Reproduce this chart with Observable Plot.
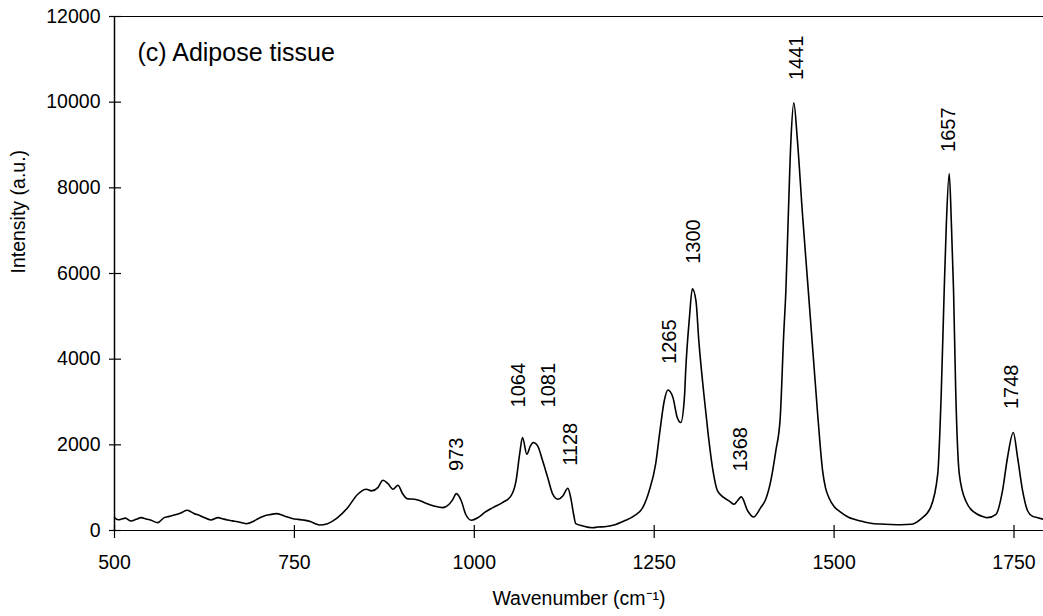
<!DOCTYPE html>
<html>
<head>
<meta charset="utf-8">
<script src="https://cdn.jsdelivr.net/npm/d3@7"></script>
<script src="https://cdn.jsdelivr.net/npm/@observablehq/plot@0.6"></script>
<style>
  html, body { margin: 0; padding: 0; background: #fff; overflow: hidden; }
  #chart svg { display: block; }
</style>
</head>
<body>
<div id="chart"></div>
<script>
// Spectrum
const wavenumber = [500,505,509,515,523,530,537,544,551,560,569,576,583,593,601,606,611,617,623,634,644,651,657,664,671,683,694,700,708,716,725,736,748,755,762,773,779,785,796,803,810,824,838,850,857,866,873,880,887,894,900,907,917,924,931,944,956,965,970,975,982,988,996,1005,1010,1014,1026,1039,1051,1058,1063,1067,1073,1078,1082,1088,1095,1102,1109,1116,1123,1130,1134,1138,1141,1151,1164,1172,1181,1194,1208,1222,1234,1243,1252,1258,1264,1269,1276,1282,1287,1292,1294,1299,1303,1308,1312,1319,1325,1331,1338,1347,1355,1361,1366,1371,1380,1388,1398,1405,1412,1419,1425,1430,1433,1436,1440,1444,1449,1456,1463,1470,1477,1484,1488,1493,1500,1509,1520,1528,1542,1551,1565,1579,1593,1607,1620,1634,1644,1649,1653,1656,1660,1663,1666,1669,1674,1683,1699,1706,1713,1725,1734,1741,1749,1755,1762,1769,1776,1783,1791];
const intensity = [300,250,262,290,222,260,300,270,238,183,300,330,362,417,472,440,393,360,316,246,300,270,246,225,206,159,222,280,339,370,393,339,276,260,246,206,160,129,159,220,300,533,847,964,924,1001,1174,1095,964,1057,870,740,730,700,650,573,533,613,720,861,690,379,238,300,360,417,533,650,807,1158,1782,2171,1782,1977,2054,1977,1626,1235,847,730,807,987,767,379,159,105,65,80,89,129,222,339,533,924,1549,2327,3029,3279,3107,2639,2522,3107,3808,4978,5642,5368,4433,3186,2250,1469,924,767,680,613,700,784,456,316,533,730,1158,1860,2600,4589,5602,7162,9111,9984,9111,7400,5850,4300,2750,1400,1000,760,560,430,310,260,200,170,150,140,135,145,262,533,1315,3263,5602,7162,8332,7162,5602,3263,1315,690,379,330,300,379,924,1704,2288,1704,924,456,330,300,262];

// Peak annotations
const peakLabels = ["973","1064","1081","1128","1265","1300","1368","1441","1657","1748"];
const peakLabelX = [976,1061,1103,1134,1272,1305,1370,1448,1659,1747];
const peakLabelY = [1392,2873,2873,1509,3888,6227,1375,10515,8837,2835];

const xTicks = [500,750,1000,1250,1500,1750];
const yTicks = [0,2000,4000,6000,8000,10000,12000];

const titleText = "(c) Adipose tissue";
const xTitle = "Wavenumber (cm\u207B\u00B9)";
const yTitle = "Intensity (a.u.)";

const spectrum = wavenumber.map((w, i) => ({w, v: intensity[i]}));
const peaks = peakLabels.map((t, i) => ({t, x: peakLabelX[i], y: peakLabelY[i]}));

const W = 1043, H = 616, mL = 114, mR = 0, mT = 16, mB = 86;
const xDomain = [500, 1791];
const yDomain = [0, 12000];
const uX = (xDomain[1] - xDomain[0]) / (W - mL - mR); // units per px
const uY = (yDomain[1] - yDomain[0]) / (H - mT - mB);

const font = "'Liberation Sans', Arial, Helvetica, sans-serif";

const chart = Plot.plot({
  width: W,
  height: H,
  marginLeft: mL,
  marginRight: mR,
  marginTop: mT,
  marginBottom: mB,
  style: {fontFamily: font, background: "#fff", color: "#000"},
  x: {domain: xDomain, axis: null},
  y: {domain: yDomain, axis: null},
  marks: [
    // frame lines
    Plot.ruleY([12000], {stroke: "#000", strokeWidth: 1.2}),
    Plot.ruleY([0], {stroke: "#000", strokeWidth: 1.2}),
    Plot.ruleX([500], {stroke: "#000", strokeWidth: 1.5}),
    // ticks crossing the axes
    Plot.ruleY(yTicks, {x1: 500 - 5 * uX, x2: 500 + 7 * uX, stroke: "#000", strokeWidth: 1.2}),
    Plot.ruleX(xTicks, {y1: -8 * uY, y2: 5 * uY, stroke: "#000", strokeWidth: 1.2}),
    // tick labels
    Plot.text(yTicks, {x: 500, y: d => d, text: d => String(d), textAnchor: "end", dx: -14, fontSize: 19.5, fill: "#000"}),
    Plot.text(xTicks, {x: d => d, y: 0, text: d => String(d), dy: 32, fontSize: 19.5, fill: "#000"}),
    // spectrum
    Plot.line(spectrum, {x: "w", y: "v", stroke: "#000", strokeWidth: 1.6, curve: "monotone-x"}),
    // peak labels
    Plot.text(peaks, {x: "x", y: "y", text: "t", rotate: -90, textAnchor: "start", lineAnchor: "middle", fontSize: 20, fill: "#000"}),
    // chart title inside plot
    Plot.text([titleText], {frameAnchor: "top-left", dx: 23, dy: 36, textAnchor: "start", lineAnchor: "middle", fontSize: 25, fill: "#000"}),
    // axis titles
    Plot.text([xTitle], {frameAnchor: "bottom", dy: 68, lineAnchor: "middle", fontSize: 19.5, fill: "#000"}),
    Plot.text([yTitle], {frameAnchor: "left", dx: -96, rotate: -90, lineAnchor: "middle", fontSize: 19.5, fill: "#000"})
  ]
});

document.getElementById("chart").append(chart);
</script>
</body>
</html>
